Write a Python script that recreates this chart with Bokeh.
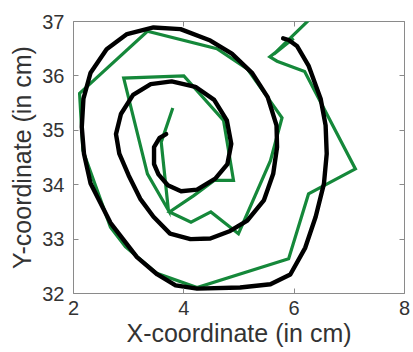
from bokeh.plotting import figure
from bokeh.models import LinearAxis, FixedTicker, CustomJSTickFormatter
from bokeh.embed import file_html
from bokeh.resources import INLINE

# decoded trajectory (green)
green_x = [3.80, 3.59, 3.72, 3.34, 2.91, 4.00, 4.72, 4.90, 4.55, 4.18, 3.74, 4.13,
           4.49, 4.99, 5.57, 5.78, 5.15, 4.60, 3.34, 2.11, 2.17, 2.67, 2.94, 3.51,
           4.24, 5.90, 6.26, 7.11, 6.19, 5.69, 5.56, 5.99, 5.63, 6.28]
green_y = [35.41, 34.78, 33.53, 34.20, 35.96, 36.00, 35.18, 34.08, 34.08, 33.80, 33.50, 33.31,
           33.50, 33.10, 34.44, 35.23, 36.13, 36.50, 36.82, 35.68, 34.63, 33.22, 32.86, 32.37,
           32.11, 32.64, 33.83, 34.29, 36.08, 36.27, 36.35, 36.69, 36.40, 37.04]

# actual trajectory (black)
black_x = [3.68, 3.56, 3.46, 3.46, 3.54, 3.71, 3.95, 4.24, 4.57, 4.79, 4.86, 4.78,
           4.55, 4.21, 3.78, 3.40, 3.08, 2.86, 2.77, 2.83, 3.00, 3.21, 3.45, 3.75,
           4.12, 4.48, 4.84, 5.15, 5.45, 5.62, 5.69, 5.68, 5.52, 5.24, 4.87, 4.48,
           3.94, 3.45, 2.97, 2.60, 2.31, 2.18, 2.15, 2.19, 2.31, 2.67, 3.15, 3.52,
           3.85, 4.24, 5.02, 5.57, 5.93, 6.20, 6.39, 6.54, 6.59, 6.57, 6.48, 6.26,
           6.05, 5.90, 5.80]
black_y = [34.93, 34.86, 34.69, 34.38, 34.19, 33.99, 33.88, 33.91, 34.11, 34.38, 34.75, 35.18,
           35.56, 35.80, 35.90, 35.85, 35.65, 35.30, 34.93, 34.57, 34.17, 33.74, 33.41, 33.10,
           33.00, 33.01, 33.15, 33.34, 33.71, 34.20, 34.69, 35.09, 35.61, 36.05, 36.41, 36.65,
           36.86, 36.89, 36.77, 36.49, 36.06, 35.58, 35.06, 34.57, 34.02, 33.30, 32.67, 32.35,
           32.15, 32.09, 32.11, 32.17, 32.35, 32.84, 33.41, 34.02, 34.57, 35.09, 35.58, 36.19,
           36.55, 36.66, 36.69]

x_ticks = [2, 4, 6, 8]
y_ticks = [32, 33, 34, 35, 36, 37]
x_label = "X-coordinate (in cm)"
y_label = "Y-coordinate (in cm)"

FONT = "Liberation Sans"
TXT = "#333333"
FRAME = "#8a8a8a"

p = figure(width=413, height=352, x_range=(2, 8), y_range=(32, 37),
           output_backend="svg", toolbar_location=None,
           min_border_left=73, min_border_right=9, min_border_top=21, min_border_bottom=59,
           x_axis_label=x_label, y_axis_label=y_label)
p.grid.visible = False
p.outline_line_color = FRAME
p.outline_line_width = 1
p.background_fill_color = "white"
p.border_fill_color = "white"

for ax in (p.xaxis[0], p.yaxis[0]):
    ax.axis_line_color = None
    ax.major_tick_in = 5
    ax.major_tick_out = 0
    ax.major_tick_line_color = FRAME
    ax.minor_tick_line_color = None
    ax.major_label_text_font = FONT
    ax.major_label_text_font_size = "20px"
    ax.major_label_text_color = TXT
    ax.axis_label_text_font = FONT
    ax.axis_label_text_font_size = "25px"
    ax.axis_label_text_font_style = "normal"
    ax.axis_label_text_color = TXT

p.xaxis[0].ticker = FixedTicker(ticks=x_ticks)
p.yaxis[0].ticker = FixedTicker(ticks=y_ticks)
p.xaxis[0].major_label_standoff = 7
p.xaxis[0].axis_label_standoff = 1
p.yaxis[0].major_label_standoff = 9
p.yaxis[0].axis_label_standoff = 3

empty = CustomJSTickFormatter(code="return ''")
top = LinearAxis(ticker=FixedTicker(ticks=x_ticks), formatter=empty, axis_line_color=None,
                 major_tick_in=5, major_tick_out=0, major_tick_line_color=FRAME,
                 minor_tick_line_color=None, major_label_standoff=0)
right = LinearAxis(ticker=FixedTicker(ticks=y_ticks), formatter=empty, axis_line_color=None,
                   major_tick_in=5, major_tick_out=0, major_tick_line_color=FRAME,
                   minor_tick_line_color=None, major_label_standoff=0)
p.add_layout(top, "above")
p.add_layout(right, "right")

p.line(green_x, green_y, line_color="#15883a", line_width=3.2, line_join="miter")
p.line(black_x, black_y, line_color="#000000", line_width=4.4, line_join="round", line_cap="round")

open("out.html", "w").write(file_html(p, INLINE))
